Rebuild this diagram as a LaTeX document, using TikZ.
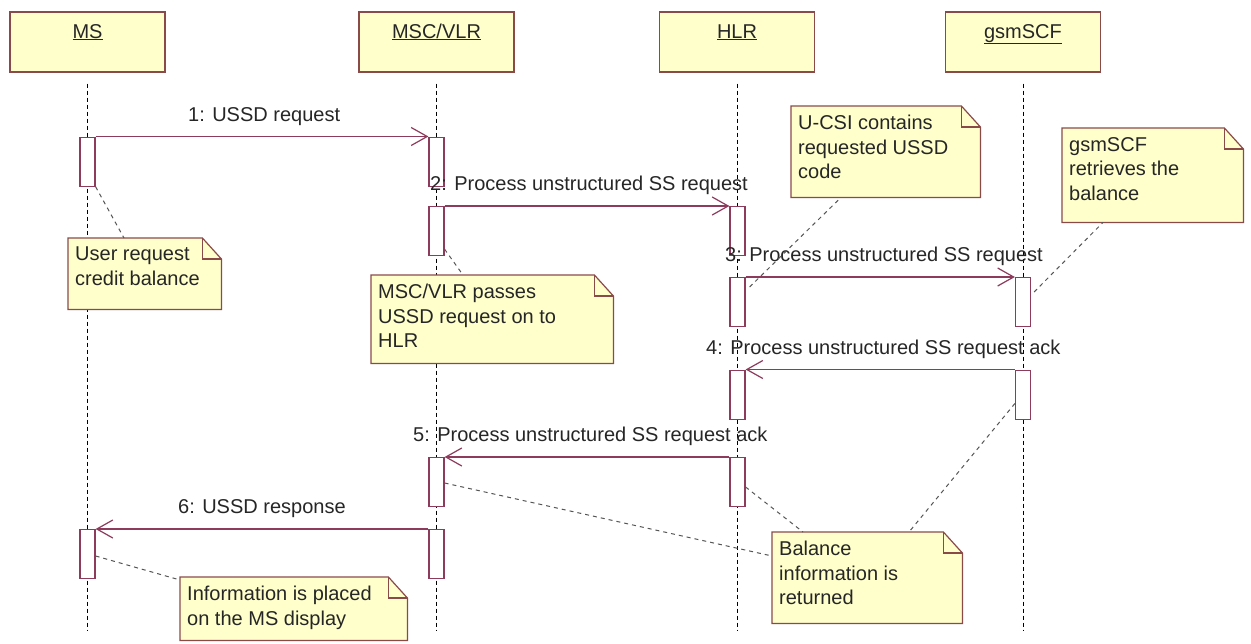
\documentclass[tikz,border=0pt]{standalone}
\usepackage{fontspec}
\setmainfont{Liberation Sans}
\usetikzlibrary{arrows.meta,calc}

\definecolor{msgcol}{HTML}{8C3B5A}
\definecolor{boxline}{HTML}{8B4A4A}
\definecolor{boxfill}{HTML}{FFFFCC}
\definecolor{txtcol}{HTML}{262626}
\definecolor{linkcol}{HTML}{555555}

\tikzset{
  head/.style={draw=boxline, fill=boxfill, line width=1.2pt,
    minimum width=155pt, minimum height=60pt, inner sep=0pt,
    text height=15pt, text depth=23pt, text=txtcol,
    font=\fontsize{20}{24}\selectfont},
  lifeline/.style={draw=black, line width=1pt, dash pattern=on 4pt off 3pt},
  actbox/.style={draw=msgcol, fill=white, line width=1.2pt,
    minimum width=15pt, minimum height=49pt, inner sep=0pt, anchor=north},
  msg/.style={draw=msgcol, line width=1.2pt,
    -{Straight Barb[length=16pt,width=18pt]}},
  msglabel/.style={anchor=base west, inner sep=0pt, text=txtcol,
    font=\fontsize{20}{24}\selectfont},
  notearea/.style={anchor=north west, inner sep=0pt, draw=none},
  notebody/.style={draw=boxline, fill=boxfill, line width=1.2pt},
  notetext/.style={anchor=north west, inner sep=0pt, align=left, text=txtcol,
    font=\fontsize{20}{24.5}\selectfont},
  notelink/.style={draw=linkcol, line width=1pt, dash pattern=on 4pt off 4pt},
}

% a UML note with a folded top right corner
\newcommand\umlnote[6]{%
  \node[notearea, minimum width=#4pt, minimum height=#5pt] (#1) at (#2,#3) {};
  \filldraw[notebody] (#1.north west) -- ([xshift=-19pt]#1.north east)
    -- ([yshift=-21pt]#1.north east) -- (#1.south east)
    -- (#1.south west) -- cycle;
  \draw[notebody, fill=none] ([xshift=-19pt]#1.north east)
    |- ([yshift=-21pt]#1.north east);
  \node[notetext] (#1t) at ([shift={(7pt,-9pt)}]#1.north west) {#6};
}

\begin{document}
\begin{tikzpicture}[x=1pt, y=-1pt]
  \fill[white] (0,0) rectangle (1251,643);
  \useasboundingbox (0,0) rectangle (1251,643);

  % object headers
  \node[head] (ms)  at (87.5,42)  {\underline{MS}};
  \node[head] (msc) at (436.5,42) {\underline{MSC/VLR}};
  \node[head] (hlr) at (737,42)   {\underline{HLR}};
  \node[head] (gsm) at (1023,42)  {\underline{gsmSCF}};

  % lifelines
  \coordinate (msBot)  at (87.5,630);
  \coordinate (mscBot) at (436.5,630);
  \coordinate (hlrBot) at (737,630);
  \coordinate (gsmBot) at (1023,630);
  \draw[lifeline] ([yshift=-11pt]ms.south)  -- (msBot);
  \draw[lifeline] ([yshift=-11pt]msc.south) -- (mscBot);
  \draw[lifeline] ([yshift=-11pt]hlr.south) -- (hlrBot);
  \draw[lifeline] ([yshift=-11pt]gsm.south) -- (gsmBot);

  % activation bars
  \node[actbox] (ms1)  at (87.5,136.5) {};
  \node[actbox] (msc1) at (436.5,136.5) {};
  \node[actbox] (msc2) at (436.5,206) {};
  \node[actbox] (hlr2) at (737.5,206) {};
  \node[actbox] (hlr3) at (737.5,277) {};
  \node[actbox] (gsm3) at (1023,277) {};
  \node[actbox] (hlr4) at (737.5,369.5) {};
  \node[actbox] (gsm4) at (1023,369.5) {};
  \node[actbox] (hlr5) at (737.5,457) {};
  \node[actbox] (msc5) at (436.5,457) {};
  \node[actbox] (msc6) at (436.5,529) {};
  \node[actbox] (ms6)  at (87.5,529) {};

  % messages
  \draw[msg] (ms1.north east)  -- (msc1.north west);
  \draw[msg] (msc2.north east) -- (hlr2.north west);
  \draw[msg] (hlr3.north east) -- (gsm3.north west);
  \draw[msg] (gsm4.north west) -- (hlr4.north east);
  \draw[msg] (hlr5.north west) -- (msc5.north east);
  \draw[msg] (msc6.north west) -- (ms6.north east);

  % message labels
  \node[msglabel] (l1) at (188,121) {1: USSD request};
  \node[msglabel] (l2) at (430,190) {2: Process unstructured SS request};
  \node[msglabel] (l3) at (725,261) {3: Process unstructured SS request};
  \node[msglabel] (l4) at (706,354) {4: Process unstructured SS request ack};
  \node[msglabel] (l5) at (413,441) {5: Process unstructured SS request ack};
  \node[msglabel] (l6) at (178,513) {6: USSD response};

  % notes
  \umlnote{nUser}{68}{238}{153}{71}{User request\\credit balance}
  \umlnote{nMsc}{371}{275}{242}{88}{MSC/VLR passes\\USSD request on to\\HLR}
  \umlnote{nUcsi}{791}{106}{189}{91}{U-CSI contains\\requested USSD\\code}
  \umlnote{nGsm}{1062}{128}{181}{94}{gsmSCF\\retrieves the\\balance}
  \umlnote{nBal}{772}{532}{190}{91}{Balance\\information is\\returned}
  \umlnote{nInfo}{180}{577}{227}{63}{Information is placed\\on the MS display}

  % note anchors
  \draw[notelink] (ms1.south east) -- ($(nUser.north west)+(56,0)$);
  \draw[notelink] ([yshift=7pt]msc2.south east) -- ($(nMsc.north west)+(92,0)$);
  \draw[notelink] ([shift={(4pt,-10pt)}]hlr3.north east) -- ($(nUcsi.south west)+(50,0)$);
  \draw[notelink] ([shift={(3pt,-15pt)}]gsm3.north east) -- ($(nGsm.south west)+(41,0)$);
  \draw[notelink] ([yshift=-34pt]gsm4.north west) -- ($(nBal.north west)+(137,0)$);
  \draw[notelink] ([yshift=-30pt]hlr5.north east) -- ($(nBal.north west)+(31,0)$);
  \draw[notelink] ([yshift=-26pt]msc5.north east) -- ($(nBal.north west)+(0,24)$);
  \draw[notelink] ([yshift=-27pt]ms6.north east) -- ($(nInfo.north west)+(0,3)$);
\end{tikzpicture}
\end{document}
